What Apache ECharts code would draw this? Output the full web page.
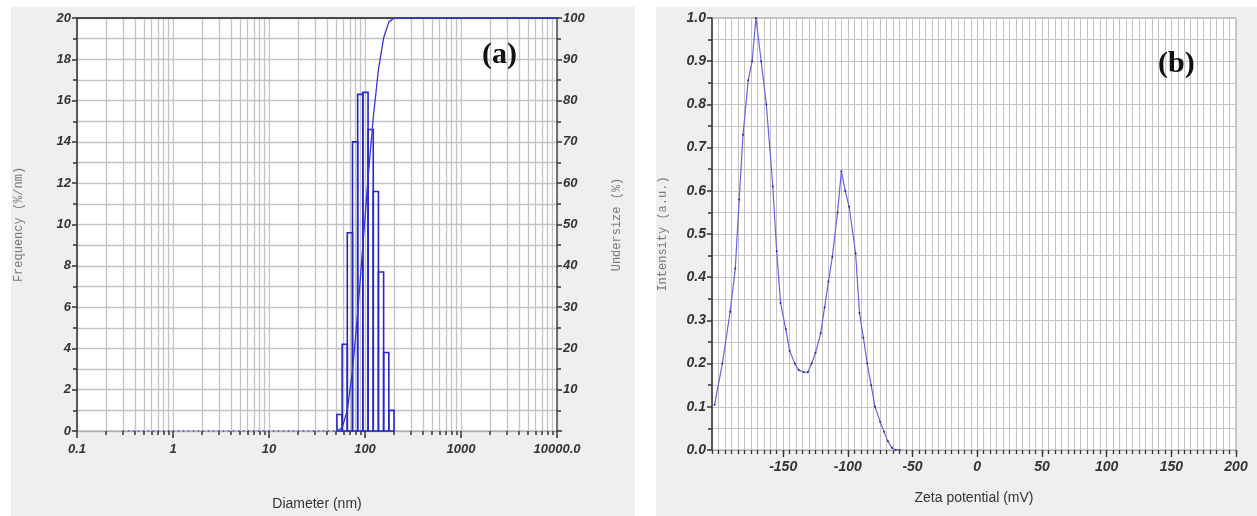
<!DOCTYPE html>
<html>
<head>
<meta charset="utf-8">
<script src="https://cdn.jsdelivr.net/npm/echarts@6/dist/echarts.min.js"></script>
<style>
  html, body { margin: 0; padding: 0; background: #ffffff; }
  #wrap { position: relative; width: 1257px; height: 516px; }
  .panel { position: absolute; background: #efefef; }
  #chart { position: absolute; left: 0; top: 0; width: 1257px; height: 516px; }
</style>
</head>
<body>
<div id="wrap">
  <div class="panel" style="left:11px;top:7px;width:624px;height:509px;"></div>
  <div class="panel" style="left:656px;top:7px;width:601px;height:509px;"></div>
  <div id="chart"></div>
</div>
<script>
// ---- Panel (a): particle size distribution ----
// histogram bin edges (nm) and frequency of each bin (%)
const binEdges = [51.0, 57.8, 65.4, 74.1, 83.9, 95.0, 107.6, 121.9, 138.0, 156.3, 177.0, 200.5];
const frequency = [0.8, 4.2, 9.6, 14.0, 16.3, 16.4, 14.6, 11.6, 7.7, 3.8, 1.0];
// cumulative undersize curve (%)
const undersizeDiam = [51.0, 57.8, 65.4, 74.1, 83.9, 95.0, 107.6, 121.9, 138.0, 156.3, 177.0, 200.5, 10000];
const undersize = [0, 0.8, 5.0, 14.6, 28.6, 44.9, 61.3, 75.9, 87.5, 95.2, 99.0, 100, 100];
// empty part of the measured range, drawn dotted on the baseline
const emptyDiam = [0.3, 51.0];
const emptyFreq = [0, 0];
// diameter axis ticks
const diameterTicks = [0.1, 1, 10, 100, 1000, 10000];
const diameterTickLabels = ['0.1', '1', '10', '100', '1000', '10000.0'];
const decadeSteps = [2, 3, 4, 5, 6, 7, 8, 9];

// ---- Panel (b): zeta potential distribution ----
const zeta = [-203, -197, -191, -187, -184, -181, -177, -174, -171, -167, -163, -158, -155, -152, -148, -145,
  -141, -138, -134, -131, -128, -125, -121, -118, -115, -112, -108, -105, -102, -99, -94, -91, -88, -85,
  -82, -79, -75, -72, -69, -66, -63, -60];
const intensity = [0.105, 0.20, 0.32, 0.42, 0.58, 0.73, 0.856, 0.90, 1.0, 0.90, 0.80, 0.61, 0.46, 0.34, 0.28, 0.23,
  0.20, 0.185, 0.18, 0.18, 0.20, 0.225, 0.27, 0.33, 0.39, 0.447, 0.55, 0.645, 0.60, 0.563, 0.455, 0.317, 0.26, 0.20,
  0.15, 0.10, 0.065, 0.042, 0.02, 0.005, 0.0, 0.0];
const zetaMajorTicks = [-150, -100, -50, 0, 50, 100, 150, 200];

const lg = Math.log10;
const minorLog = [];
diameterTicks.slice(0, -1).forEach(d => decadeSteps.forEach(k => minorLog.push(lg(d * k))));

const tickFont = { fontFamily: 'Liberation Sans, Arial, sans-serif', fontStyle: 'italic', fontWeight: 'bold', fontSize: 13, color: '#333' };
const monoName = { fontFamily: 'Liberation Mono, Courier New, monospace', fontSize: 12, color: '#7a7a7a' };
const gridGray = '#c3c3c3';
const blue = '#2626c8';

const chart = echarts.init(document.getElementById('chart'), null, { renderer: 'canvas' });

chart.setOption({
  animation: false,
  backgroundColor: 'transparent',
  grid: [
    { left: 77, top: 18, width: 480, height: 413, show: true, backgroundColor: '#ffffff', borderColor: '#9a9a9a', borderWidth: 1 },
    { left: 712, top: 18, width: 524, height: 432, show: true, backgroundColor: '#ffffff', borderColor: '#9a9a9a', borderWidth: 1 }
  ],
  xAxis: [
    { // decades (log10 of diameter)
      gridIndex: 0, type: 'value', position: 'bottom', min: -1, max: 4, interval: 1,
      name: 'Diameter (nm)', nameLocation: 'middle', nameGap: 66,
      nameTextStyle: { fontFamily: 'Liberation Sans Narrow, Liberation Sans, Arial, sans-serif', fontSize: 14, color: '#333' },
      axisLine: { show: true, onZero: false, lineStyle: { color: '#b0b0b0', width: 1 } },
      axisTick: { show: true, length: 7, lineStyle: { color: '#333', width: 1.5 } },
      axisLabel: Object.assign({ margin: 12, formatter: v => diameterTickLabels[diameterTicks.map(lg).findIndex(t => Math.abs(t - v) < 1e-6)] || '' }, tickFont),
      splitLine: { show: true, lineStyle: { color: gridGray, width: 1.3 } }
    },
    { // 2..9 within each decade
      gridIndex: 0, type: 'value', position: 'bottom', min: -1, max: 4,
      axisLine: { show: false, onZero: false },
      axisTick: { show: true, length: 4, customValues: minorLog, lineStyle: { color: '#333', width: 1.5 } },
      axisLabel: { show: false },
      splitLine: { show: true, lineStyle: { color: gridGray, width: 1.3 } }
    },
    { // dark frame line at the top
      gridIndex: 0, type: 'value', position: 'top', min: -1, max: 4,
      axisLine: { show: true, onZero: false, lineStyle: { color: '#4a4a4a', width: 2 } },
      axisTick: { show: false }, axisLabel: { show: false }, splitLine: { show: false }
    },
    { // zeta potential, 5 mV grid
      gridIndex: 1, type: 'value', position: 'bottom', min: -205, max: 200, interval: 5,
      name: 'Zeta potential (mV)', nameLocation: 'middle', nameGap: 41,
      nameTextStyle: { fontFamily: 'Liberation Sans, Arial, sans-serif', fontSize: 14, color: '#333' },
      axisLine: { show: true, onZero: false, lineStyle: { color: '#b0b0b0', width: 1 } },
      axisTick: { show: true, length: 4, lineStyle: { color: '#333', width: 1.3 } },
      axisLabel: Object.assign({ margin: 10, formatter: v => (zetaMajorTicks.indexOf(v) >= 0 ? String(v) : '') }, tickFont, { fontSize: 14 }),
      splitLine: { show: true, lineStyle: { color: gridGray, width: 1 } }
    },
    { // longer ticks every 50 mV
      gridIndex: 1, type: 'value', position: 'bottom', min: -205, max: 200,
      axisLine: { show: false, onZero: false },
      axisTick: { show: true, length: 7, customValues: zetaMajorTicks, lineStyle: { color: '#333', width: 1.3 } },
      axisLabel: { show: false }, splitLine: { show: false }
    }
  ],
  yAxis: [
    {
      gridIndex: 0, type: 'value', position: 'left', min: 0, max: 20, interval: 2,
      name: 'Frequency (%/nm)', nameLocation: 'middle', nameGap: 52, nameRotate: 90, nameTextStyle: monoName,
      axisLine: { show: true, onZero: false, lineStyle: { color: '#333', width: 1.5 } },
      axisTick: { show: true, length: 5, lineStyle: { color: '#333', width: 1.5 } },
      minorTick: { show: true, splitNumber: 2, length: 4, lineStyle: { color: '#333', width: 1.5 } },
      axisLabel: Object.assign({ margin: 6 }, tickFont),
      splitLine: { show: true, lineStyle: { color: gridGray, width: 1.3 } },
      minorSplitLine: { show: true, lineStyle: { color: gridGray, width: 1.3 } }
    },
    {
      gridIndex: 0, type: 'value', position: 'right', min: 0, max: 100, interval: 10,
      name: 'Undersize (%)', nameLocation: 'middle', nameGap: 54, nameRotate: 90, nameTextStyle: monoName,
      axisLine: { show: true, onZero: false, lineStyle: { color: '#555', width: 1.5 } },
      axisTick: { show: true, length: 5, lineStyle: { color: '#333', width: 1.5 } },
      minorTick: { show: true, splitNumber: 2, length: 4, lineStyle: { color: '#333', width: 1.5 } },
      axisLabel: Object.assign({ margin: 6, formatter: v => (v === 0 ? '' : String(v)) }, tickFont),
      splitLine: { show: false }
    },
    {
      gridIndex: 1, type: 'value', position: 'left', min: 0, max: 1, interval: 0.1,
      name: 'Intensity (a.u.)', nameLocation: 'middle', nameGap: 43, nameRotate: 90, nameTextStyle: monoName,
      axisLine: { show: true, onZero: false, lineStyle: { color: '#333', width: 1.5 } },
      axisTick: { show: true, length: 5, lineStyle: { color: '#333', width: 1.5 } },
      minorTick: { show: true, splitNumber: 2, length: 4, lineStyle: { color: '#333', width: 1.5 } },
      axisLabel: Object.assign({ margin: 6, formatter: v => v.toFixed(1) }, tickFont, { fontSize: 14 }),
      splitLine: { show: true, lineStyle: { color: gridGray, width: 1.2 } },
      minorSplitLine: { show: true, lineStyle: { color: gridGray, width: 1.2 } }
    }
  ],
  series: [
    {
      name: 'Frequency', type: 'custom', xAxisIndex: 0, yAxisIndex: 0, z: 5,
      data: frequency.map((f, i) => [lg(binEdges[i]), lg(binEdges[i + 1]), f]),
      encode: { x: [0, 1], y: 2 },
      renderItem: (params, api) => {
        const p0 = api.coord([api.value(0), api.value(2)]);
        const p1 = api.coord([api.value(1), 0]);
        return {
          type: 'rect',
          shape: { x: p0[0], y: p0[1], width: p1[0] - p0[0], height: p1[1] - p0[1] },
          style: { fill: 'rgba(255,255,255,0)', stroke: blue, lineWidth: 1.6 }
        };
      }
    },
    {
      name: 'Empty range', type: 'line', xAxisIndex: 0, yAxisIndex: 0, z: 4,
      data: emptyDiam.map((d, i) => [lg(d), emptyFreq[i]]),
      showSymbol: false, lineStyle: { color: '#3b3bd0', width: 1.5, type: [1.5, 3.5] }
    },
    {
      name: 'Undersize', type: 'line', xAxisIndex: 0, yAxisIndex: 1, z: 6,
      data: undersizeDiam.map((d, i) => [lg(d), undersize[i]]),
      showSymbol: false, lineStyle: { color: '#3434d8', width: 1.3 }
    },
    {
      name: 'Intensity', type: 'line', xAxisIndex: 3, yAxisIndex: 2, z: 6,
      data: zeta.map((z, i) => [z, intensity[i]]),
      showSymbol: true, symbol: 'circle', symbolSize: 2,
      itemStyle: { color: '#2a2a7a' },
      lineStyle: { color: '#6464e0', width: 1.2 }
    }
  ],
  graphic: [
    { type: 'text', left: 482, top: 40, z: 100,
      style: { text: '(a)', font: 'bold 30px "Liberation Serif", "Times New Roman", serif', fill: '#111' } },
    { type: 'text', left: 1158, top: 49, z: 100,
      style: { text: '(b)', font: 'bold 30px "Liberation Serif", "Times New Roman", serif', fill: '#111' } }
  ]
});
</script>
</body>
</html>
